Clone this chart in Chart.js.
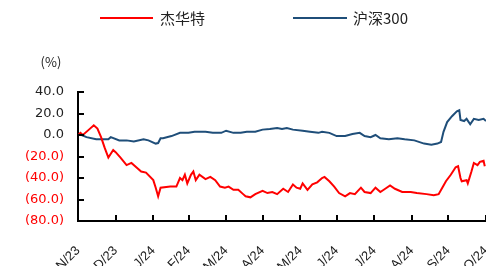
<!DOCTYPE html>
<html>
<head>
<meta charset="utf-8">
<script src="https://cdn.jsdelivr.net/npm/chart.js@4/dist/chart.umd.min.js"></script>
<style>
html, body { margin: 0; padding: 0; background: #fff; }
</style>
</head>
<body>
<canvas id="graph" width="486" height="266"></canvas>
<script>
/* 杰华特 vs 沪深300 - cumulative return (%) */

var seriesNames = ["杰华特", "沪深300"];
var seriesColors = ["#ff0000", "#1f4e79"];

// days counted from 2023-12-01
var tickDays = [0, 31, 62, 91, 122, 152, 183, 213, 244, 275, 305, 336];
var tickLabels = ["N/23", "D/23", "J/24", "F/24", "M/24", "A/24", "M/24", "J/24", "J/24", "A/24", "S/24", "O/24"];

var jhtDays = [0, 2, 4, 9, 13, 16, 19, 22, 25, 29, 31, 35, 40, 44, 48, 52, 56, 62, 64, 66, 68, 76, 81, 84, 86, 88, 90, 93, 95, 97,
	100, 105, 109, 113, 117, 121, 124, 128, 132, 136, 138, 142, 146, 152, 156, 160, 164, 169, 173, 177, 180, 183, 185, 189,
	193, 197, 201, 203, 207, 211, 215, 220, 224, 228, 233, 236, 241, 245, 249, 253, 257, 261, 267, 274, 279, 287, 293, 297,
	300, 303, 307, 311, 313, 315, 316, 320, 321, 324, 326, 329, 331, 334, 335];
var jhtValues = [0, 2, 0, 5, 9, 6, -2, -12, -21, -14, -16, -21, -28, -26, -30, -34, -35, -42, -49, -57, -49, -48, -48, -40, -42, -37, -45, -37, -34, -42,
	-37, -41, -39, -42, -48, -49, -48, -51, -51, -55, -57, -58, -55, -52, -54, -53, -55, -50, -53, -46, -49, -50, -45, -51,
	-46, -44, -40, -39, -43, -48, -54, -57, -54, -55, -49, -53, -54, -49, -53, -50, -47, -50, -53, -53, -54, -55, -56, -55,
	-49, -43, -37, -30, -29, -40, -43, -42, -45, -34, -26, -28, -25, -24, -29];

var hsDays = [0, 3, 7, 15, 25, 27, 34, 40, 46, 54, 58, 64, 66, 68, 70, 77, 84, 91, 96, 105, 111, 118, 122, 128, 134, 139, 146,
	152, 158, 164, 168, 172, 177, 185, 191, 198, 201, 207, 213, 220, 226, 232, 236, 241, 245, 249, 256, 263, 269, 277, 285,
	291, 296, 299, 301, 304, 308, 312, 314, 315, 318, 320, 323, 326, 330, 334, 336];
var hsValues = [0, 0, -2, -4, -4, -2, -5, -5, -6, -4, -5, -8, -7.5, -3, -3, -1, 2, 2, 3, 3, 2, 2, 4, 2, 2, 3, 3,
	5, 5.5, 6.5, 5.5, 6.5, 5, 4, 3, 2, 3, 2, -1, -1, 1, 2, -1, -2, 0, -3, -4, -3, -4, -5, -8,
	-9, -8, -6.5, 3, 12, 17.5, 22, 23, 14, 13, 15, 10, 15, 14, 15, 13];

function toPoints(days, values) {
	var pts = [];
	for (var i = 0; i < days.length; i++) {
		pts.push({ x: days[i], y: values[i] });
	}
	return pts;
}

// legend, "(%)" and inward tick marks
var extras = {
	id: "extras",
	afterDraw: function(chart) {
		var c = chart.ctx;
		c.save();
		// legend
		var items = [[100, 153, 160], [293, 347, 353]];
		c.font = "15px 'Noto Sans CJK SC'";
		c.textBaseline = "middle";
		c.textAlign = "left";
		for (var i = 0; i < items.length; i++) {
			c.strokeStyle = seriesColors[i];
			c.lineWidth = 2;
			c.beginPath();
			c.moveTo(items[i][0], 18);
			c.lineTo(items[i][1], 18);
			c.stroke();
			c.fillStyle = "#222";
			c.fillText(seriesNames[i], items[i][2], 18);
		}
		// unit
		c.font = "13px 'Noto Sans CJK SC'";
		c.textAlign = "center";
		c.fillText("(%)", 51, 62);

		// tick marks pointing into the plot
		var xs = chart.scales.x, ys = chart.scales.y;
		c.strokeStyle = "#000";
		c.lineWidth = 2;
		c.beginPath();
		xs.ticks.forEach(function(t) {
			var px = Math.round(xs.getPixelForValue(t.value));
			c.moveTo(px, ys.bottom);
			c.lineTo(px, ys.bottom - 6);
		});
		ys.ticks.forEach(function(t) {
			var py = Math.round(ys.getPixelForValue(t.value));
			c.moveTo(xs.left, py);
			c.lineTo(xs.left + 6, py);
		});
		c.stroke();
		c.restore();
	}
};

var ctx = document.getElementById("graph").getContext("2d");

var chart = new Chart(ctx, {
	type: "line",

	data: {
		datasets: [{
			label: seriesNames[0],
			borderColor: seriesColors[0],
			borderWidth: 2,
			pointRadius: 0,
			tension: 0,
			fill: false,
			data: toPoints(jhtDays, jhtValues)
		}, {
			label: seriesNames[1],
			borderColor: seriesColors[1],
			borderWidth: 2,
			pointRadius: 0,
			tension: 0,
			fill: false,
			data: toPoints(hsDays, hsValues)
		}]
	},

	options: {
		responsive: false,
		animation: false,
		layout: { padding: { top: 92, left: 0, right: 0, bottom: 0 } },
		plugins: {
			legend: { display: false },
			tooltip: { enabled: false }
		},
		scales: {
			x: {
				type: "linear",
				min: 0,
				max: 336,
				grid: { display: false, drawTicks: false },
				border: { display: true, color: "#000", width: 2 },
				afterBuildTicks: function(scale) {
					scale.ticks = tickDays.map(function(d) { return { value: d }; });
				},
				afterFit: function(scale) {
					scale.height = 45;
					scale.paddingLeft = 0;
					scale.paddingRight = 0;
				},
				ticks: {
					autoSkip: false,
					minRotation: 45,
					maxRotation: 45,
					padding: 22,
					color: "#222",
					font: { family: "'Liberation Sans', Arial", size: 13 },
					callback: function(value) {
						var i = tickDays.indexOf(value);
						return i >= 0 ? tickLabels[i] : "";
					}
				}
			},
			y: {
				min: -80,
				max: 40,
				grid: { display: false, drawTicks: false },
				border: { display: true, color: "#000", width: 2 },
				afterFit: function(scale) {
					scale.width = 78;
				},
				ticks: {
					stepSize: 20,
					padding: 14,
					font: { family: "'DejaVu Sans'", size: 13 },
					color: function(c) {
						return c.tick && c.tick.value < 0 ? "#ff0000" : "#222";
					},
					callback: function(value) {
						if (value < 0) return "(" + Math.abs(value).toFixed(1) + ")";
						return value.toFixed(1);
					}
				}
			}
		}
	},

	plugins: [extras]
});
</script>
</body>
</html>
